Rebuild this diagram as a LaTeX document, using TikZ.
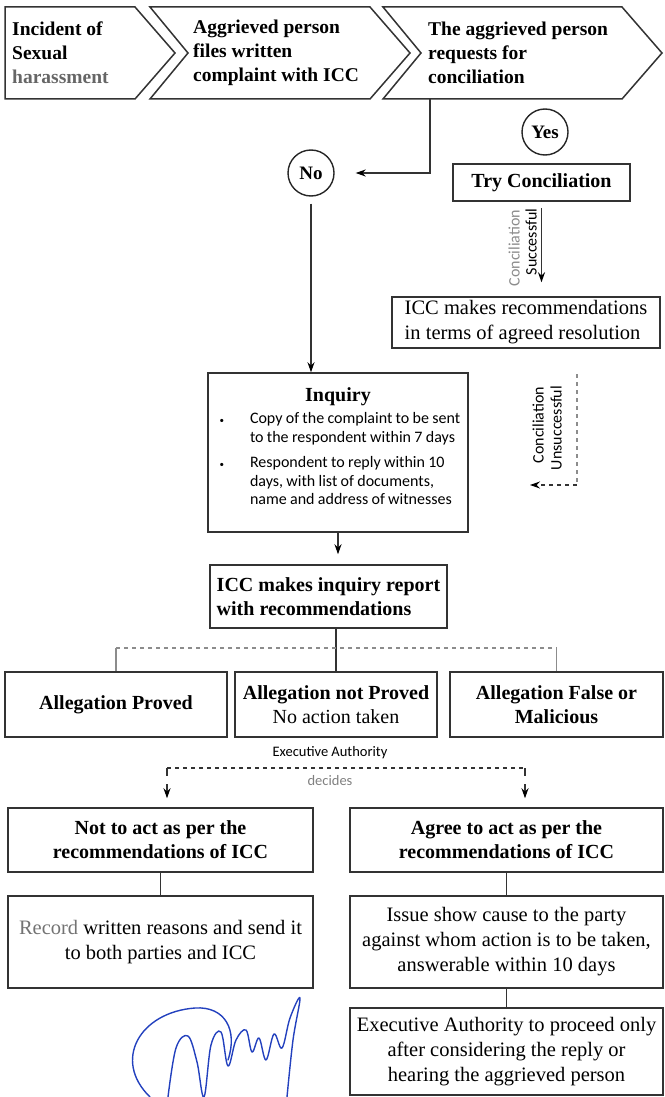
\documentclass[tikz,border=0pt]{standalone}
\usepackage{fontspec}
\setmainfont{Liberation Serif}
\newfontfamily\lblfont{Carlito}
\usepackage{tikz}
\usetikzlibrary{arrows.meta}
\usetikzlibrary{calc}
\definecolor{ink}{RGB}{35,65,190}
\tikzset{
  stage/.style={draw=black!80, line width=1.5pt, line join=miter},
  stagetext/.style={anchor=west, align=left, inner sep=0pt, font=\bfseries\fontsize{19.5}{24}\selectfont},
  box/.style={draw=black!80, line width=1.5pt, align=center, inner sep=2pt},
  boldbox/.style={box, font=\bfseries\fontsize{20}{24}\selectfont},
  plainbox/.style={box, font=\fontsize{20.5}{25}\selectfont},
  choice/.style={circle, draw=black!85, line width=1.4pt, minimum size=46pt, inner sep=0pt, font=\bfseries\fontsize{19}{20}\selectfont},
  link/.style={draw=black!80, line width=1.1pt},
  tip/.style={-{Stealth[length=10pt,width=7pt,color=black]}},
  arr/.style={link, tip},
  dashlink/.style={link, dash pattern=on 4pt off 4pt},
  sidelbl/.style={rotate=90, inner sep=0pt, font=\lblfont\fontsize{16}{16}\selectfont},
  smalllbl/.style={inner sep=0pt, font=\lblfont\fontsize{14.5}{14.5}\selectfont},
}
\begin{document}
\begin{tikzpicture}[x=1pt, y=-1pt]
	\useasboundingbox (0,0) rectangle (664,1097);

	% the three stages along the top
	\draw[stage] (5,7) -- (135,7) -- (175,53) -- (135,99) -- (5,99) -- cycle;
	\draw[stage] (150,7) -- (370,7) -- (410,53) -- (370,99) -- (150,99) -- (188,53) -- cycle;
	\draw[stage] (383,7) -- (622,7) -- (662,53) -- (622,99) -- (383,99) -- (421,53) -- cycle;

	\node[stagetext] (S1) at (12,53) {Incident of\\Sexual\\\textcolor{black!60}{harassment}};
	\node[stagetext] (S2) at (193,53) {Aggrieved person\\files written\\complaint with ICC};
	\node[stagetext] (S3) at (428,53) {The aggrieved person\\requests for\\conciliation};
	\coordinate (S3b) at (430,99);

	% yes / no
	\node[choice] (Yes) at (545,132) {Yes};
	\node[choice] (No) at (311,173) {No};

	% conciliation branch
	\node[boldbox, minimum width=177pt, minimum height=37pt] (TryC) at (541.5,182.5) {Try Conciliation};
	\node[plainbox, align=left, minimum width=268pt, minimum height=51pt] (Rec) at (526,322.5)
		{ICC makes recommendations\\in terms of agreed resolution};

	\node[sidelbl, text=black!45] (CS1) at (514,248) {Conciliation};
	\node[sidelbl] (CS2) at (531,242) {Successful};

	\node[sidelbl] (CU1) at (538,425) {Conciliation};
	\node[sidelbl] (CU2) at (556,428) {Unsuccessful};
	\coordinate (U1) at (577,374);
	\coordinate (U2) at (577,485);
	\coordinate (U3) at (530,485);

	% inquiry
	\node[box, minimum width=260pt, minimum height=159pt, text width=256pt, align=left] (Inq) at (338,452.5) {%
		{\centering\bfseries\fontsize{20}{24}\selectfont Inquiry\par}
		\vspace{4pt}
		{\lblfont\fontsize{16}{18.5}\selectfont
		\begin{list}{\fontsize{9}{9}\selectfont\textbullet}{\setlength{\leftmargin}{40pt}\setlength{\labelwidth}{8pt}%
			\setlength{\labelsep}{26pt}\setlength{\itemsep}{7pt}\setlength{\topsep}{0pt}%
			\setlength{\parsep}{0pt}\setlength{\partopsep}{0pt}}
		\item Copy of the complaint to be sent\\to the respondent within 7 days
		\item Respondent to reply within 10\\days, with list of documents,\\name and address of witnesses
		\end{list}\par}
		\nointerlineskip\rule{0pt}{13pt}\par
	};

	\node[boldbox, align=left, minimum width=237pt, minimum height=63pt] (Rep) at (328.5,596.5)
		{ICC makes inquiry report\\with recommendations};

	% findings
	\node[boldbox, minimum width=222pt, minimum height=65pt] (B1) at (116,704.5) {Allegation Proved};
	\node[boldbox, minimum width=202pt, minimum height=65pt] (B2) at (336,704.5)
		{Allegation not Proved\\\mdseries No action taken};
	\node[boldbox, minimum width=213pt, minimum height=65pt] (B3) at (556.5,704.5) {Allegation False or\\Malicious};
	\coordinate (Split) at (345,648);

	% executive authority decides
	\node[smalllbl] (EA) at (330,753) {Executive Authority};
	\node[smalllbl, text=black!50] (Dec) at (330,781) {decides};
	\coordinate (Dl) at (167,768);
	\coordinate (Dr) at (525,768);

	\node[boldbox, minimum width=305pt, minimum height=64pt] (NotAct) at (160.5,840)
		{Not to act as per the\\recommendations of ICC};
	\node[boldbox, minimum width=313pt, minimum height=64pt] (Agree) at (506.5,840)
		{Agree to act as per the\\recommendations of ICC};
	\node[plainbox, minimum width=305pt, minimum height=92pt] (Record) at (160.5,942)
		{\textcolor{black!55}{Record} written reasons and send it\\to both parties and ICC};
	\node[plainbox, minimum width=313pt, minimum height=92pt] (Issue) at (506.5,942)
		{Issue show cause to the party\\against whom action is to be taken,\\answerable within 10 days};
	\node[plainbox, minimum width=313pt, minimum height=87pt] (ExecA) at (506.5,1051.5)
		{Executive Authority to proceed only\\after considering the reply or\\hearing the aggrieved person};

	% connectors
	\draw[arr, shorten >=21pt] (S3b) |- (No.east);
	\draw[arr, shorten <=7pt] (No.south) -- (No.south |- Inq.north);
	\draw[arr, shorten <=6pt, shorten >=14pt] (TryC.south) -- (TryC.south |- Rec.north);
	\draw[dashlink, draw=black!45] (U1) -- (U2);
	\draw[dashlink, tip] (U2) -- (U3);
	\draw[arr, shorten >=10pt] (Inq.south) -- (Inq.south |- Rep.north);

	\draw[link] (Rep.south -| B2.north) -- (B2.north);
	\draw[dashlink, draw=black!45] (Split -| B1.north) -- (Split -| B3.north);
	\draw[link, draw=black!45] (Split -| B1.north) -- (B1.north);
	\draw[link, draw=black!45] (Split -| B3.north) -- (B3.north);

	\draw[dashlink] (Dl) -- (Dr);
	\draw[link] (Dl) -- ++(0,8);
	\draw[link] (Dr) -- ++(0,8);
	\draw[arr, shorten <=16pt, shorten >=9pt] (Dl) -- (Dl |- NotAct.north);
	\draw[arr, shorten <=16pt, shorten >=9pt] (Dr) -- (Dr |- Agree.north);

	\draw[link] (NotAct.south) -- (Record.north);
	\draw[link] (Agree.south) -- (Issue.north);
	\draw[link] (Issue.south) -- (ExecA.north);

	% signature
	\draw[ink, line width=1.4pt, line cap=round] (150,1097) .. controls (112,1060) and (140,1012) .. (195,1008)
		.. controls (225,1006) and (238,1030) .. (228,1060);
	\draw[ink, line width=1.4pt, line cap=round, line join=round] plot[smooth, tension=0.6] coordinates {
		(168,1097) (176,1048) (188,1036) (197,1062) (204,1097) (211,1045) (221,1032) (228,1066)
		(236,1040) (246,1030) (252,1052) (259,1038) (266,1060) (274,1034) (282,1048) (290,1018)
		(300,998) (293,1040) (287,1097)};
\end{tikzpicture}
\end{document}
